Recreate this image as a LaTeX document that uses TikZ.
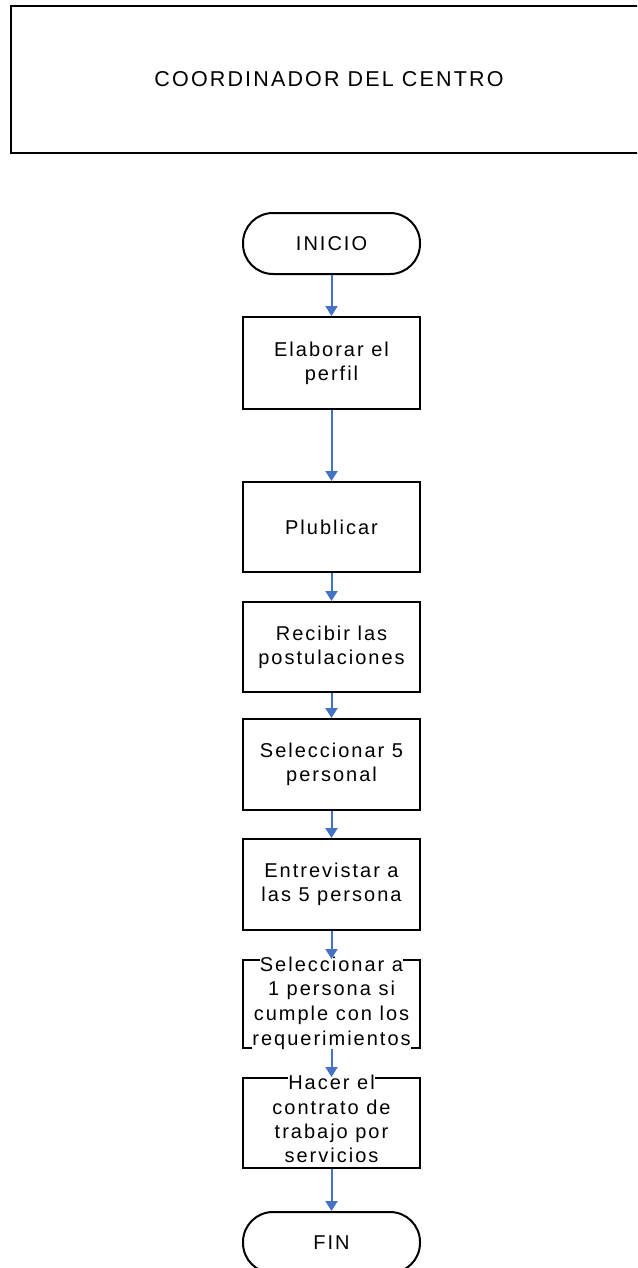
\documentclass[tikz,border=0pt]{standalone}
\usepackage{fontspec}
\setmainfont{Liberation Sans}[LetterSpace=10]
\usetikzlibrary{arrows.meta}
\definecolor{arrowblue}{RGB}{68,114,196}
\newcommand{\wl}[1]{{\setlength{\fboxsep}{0pt}\colorbox{white}{#1}}}
\begin{document}
\begin{tikzpicture}[x=1pt,y=-1pt,
  every node/.style={font=\fontsize{20}{24}\selectfont},
  box/.style={draw=black,line width=2pt,minimum width=177pt,inner sep=0pt},
  term/.style={draw=black,line width=2pt,rounded corners=30pt,minimum width=177pt,minimum height=61pt,inner sep=0pt},
  txt/.style={align=center,inner sep=0pt},
  flow/.style={draw=arrowblue,line width=2pt,-{Triangle[width=12pt,length=10pt]}}]
\clip (0,0) rectangle (637,1268);
\fill[white] (0,0) rectangle (637,1268);
\node[draw=black,line width=2pt,minimum width=637pt,minimum height=147pt,inner sep=0pt] (coord) at (329.5,79.5) {};
\node[txt,font=\fontsize{21.5}{25}\selectfont] (coordt) at (329,79) {COORDINADOR DEL CENTRO};
\node[term] (ini) at (331.5,243.5) {INICIO};
\node[box,minimum height=92pt] (b1) at (331.5,363) {};
\node[txt] (t1) at (b1) {Elaborar el\\perfil};
\node[box,minimum height=90pt] (b2) at (331.5,527) {};
\node[txt] (t2) at (b2) {Plublicar};
\node[box,minimum height=90pt] (b3) at (331.5,647) {};
\node[txt] (t3) at (b3) {Recibir las\\postulaciones};
\node[box,minimum height=91pt] (b4) at (331.5,764.5) {};
\node[txt] (t4) at (b4) {Seleccionar 5\\personal};
\node[box,minimum height=91pt] (b5) at (331.5,884.5) {};
\node[txt] (t5) at (b5) {Entrevistar a\\las 5 persona};
\node[box,minimum height=88pt] (b6) at (331.5,1004) {};
\node[txt,font=\fontsize{20}{24.7}\selectfont] (t6) at (331.5,1003) {\wl{Seleccionar a}\\\wl{1 persona si}\\\wl{cumple con los}\\\wl{requerimientos}};
\node[box,minimum height=90pt] (b7) at (331.5,1123) {};
\node[txt,font=\fontsize{20}{24.3}\selectfont] (t7) at (331.5,1119) {\wl{Hacer el}\\\wl{contrato de}\\\wl{trabajo por}\\\wl{servicios}};
\node[term] (fin) at (331.5,1242.5) {FIN};
\draw[flow] (ini.south) -- (b1.north);
\draw[flow] (b1.south) -- (b2.north);
\draw[flow] (b2.south) -- (b3.north);
\draw[flow] (b3.south) -- (b4.north);
\draw[flow] (b4.south) -- (b5.north);
\draw[flow] (b5.south) -- (b6.north);
\draw[flow] (b6.south) -- (b7.north);
\draw[flow] (b7.south) -- (fin.north);
\end{tikzpicture}
\end{document}
